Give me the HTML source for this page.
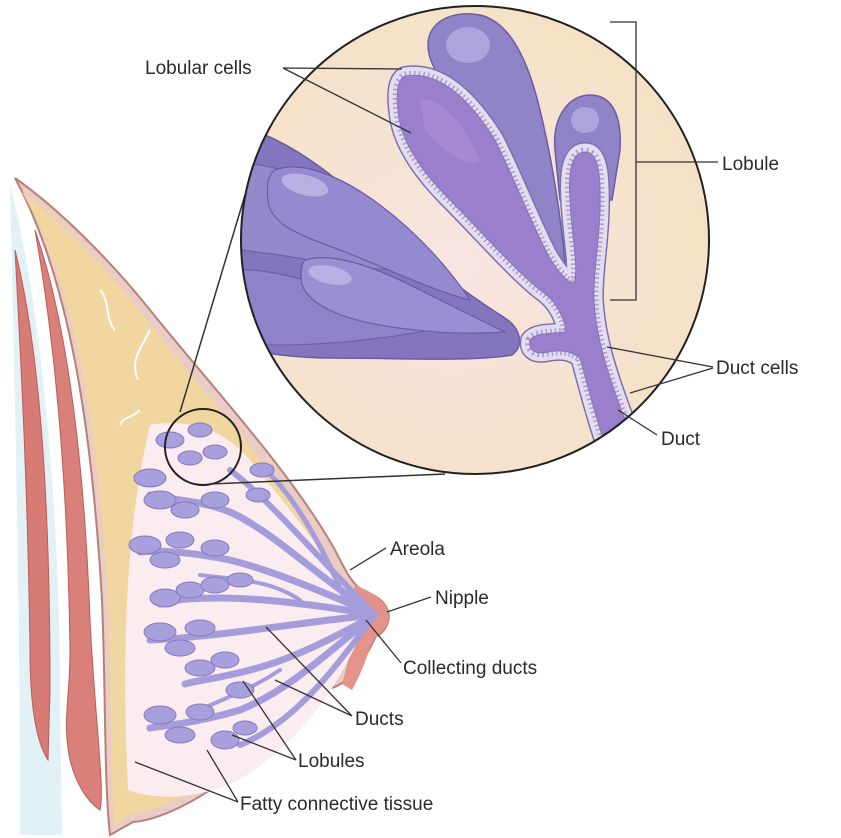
<!DOCTYPE html>
<html><head><meta charset="utf-8"><style>
html,body{margin:0;padding:0;background:#fff;}
svg{display:block;}
text{font-family:"Liberation Sans",sans-serif;font-size:19px;fill:#2a2a2a;}
</style></head><body>
<svg width="841" height="838" viewBox="0 0 841 838" xmlns="http://www.w3.org/2000/svg">
<defs>
<radialGradient id="bg" cx="0.45" cy="0.55" r="0.6"><stop offset="0" stop-color="#f8e4e2"/><stop offset="1" stop-color="#f5e2c4"/></radialGradient>
<clipPath id="cc"><circle cx="475" cy="240" r="234"/></clipPath>
</defs>
<!-- chest wall -->
<path d="M10,185 C40,300 60,500 60,700 L62,835 L20,835 C20,600 15,400 10,185 Z" fill="#e2f1f6"/>
<path d="M15,250 C40,350 50,500 50,690 L48,760 C35,740 30,700 30,650 C28,500 22,380 15,250Z" fill="#d77b75" stroke="#b95c58" stroke-width="1"/>
<path d="M35,230 C70,330 85,480 90,620 C95,720 105,790 100,810 C85,800 75,780 70,760 C62,720 70,700 70,650 C68,500 58,360 35,230Z" fill="#d9807a" stroke="#b95c58" stroke-width="1"/>
<!-- breast -->
<path d="M15,178 C60,210 110,260 150,310 C210,385 290,470 335,550 C345,570 352,585 365,592 C380,596 392,608 388,622 C385,632 378,636 376,636 C360,670 345,690 318,690 C290,730 260,765 233,773 C200,800 160,820 133,822 L110,835 C104,780 106,700 102,600 C92,430 70,280 15,178Z" fill="#e9cdc4" stroke="#b98078" stroke-width="2"/>
<path d="M22,192 C62,222 108,270 145,318 C203,392 280,475 325,553 C338,575 345,590 350,600 C350,640 340,670 312,688 C284,725 255,758 228,766 C196,792 158,810 130,814 L115,826 C110,780 112,700 108,600 C98,430 76,285 22,192Z" fill="#f1d69f"/>
<path d="M355,585 C378,594 392,606 388,622 C385,632 376,636 372,640 C368,655 362,672 352,690 L342,684 C352,650 356,620 350,600 Z" fill="#e3938a"/>
<!-- fat cracks -->
<g stroke="#fff" stroke-width="2" fill="none">
<path d="M100,290 C110,300 105,320 115,330 M150,330 C140,350 130,360 138,380 M140,410 C130,420 125,415 120,425"/>
</g>
<!-- gland area -->
<path d="M150,425 C190,418 225,430 250,460 C295,515 340,575 368,615 C345,680 300,745 235,782 C195,800 155,800 128,790 C124,700 120,550 150,425Z" fill="#fbecef"/>
<!-- ducts -->
<g fill="none" stroke="#a59ddb" stroke-linecap="round">
<path d="M375,615 C320,560 270,500 230,470" stroke-width="6"/>
<path d="M375,615 C310,570 270,530 230,512 C200,500 170,500 150,495" stroke-width="7"/>
<path d="M375,615 C320,590 270,570 230,560 C190,552 160,550 140,552" stroke-width="7"/>
<path d="M375,615 C320,605 260,598 220,598 C190,598 170,600 160,604" stroke-width="7"/>
<path d="M375,615 C320,620 260,630 210,635 C180,638 165,640 150,640" stroke-width="7"/>
<path d="M375,615 C330,640 290,660 250,670 C220,678 200,680 185,684" stroke-width="7"/>
<path d="M375,615 C330,650 290,690 240,710 C200,722 170,725 150,728" stroke-width="7"/>
<path d="M375,615 C340,660 300,720 240,745" stroke-width="6"/>
<path d="M345,600 C320,540 290,490 260,465" stroke-width="5"/>
<path d="M300,600 C270,580 240,580 200,575" stroke-width="4"/>
<path d="M280,670 C250,690 220,700 200,710" stroke-width="4"/>
</g>
<g fill="#a8a0dc" stroke="#8479bd" stroke-width="1">
<ellipse cx="170" cy="440" rx="14" ry="8"/><ellipse cx="200" cy="430" rx="12" ry="7"/><ellipse cx="215" cy="452" rx="12" ry="7"/><ellipse cx="190" cy="458" rx="12" ry="7"/>
<ellipse cx="150" cy="478" rx="16" ry="9"/><ellipse cx="160" cy="500" rx="16" ry="9"/><ellipse cx="185" cy="510" rx="14" ry="8"/><ellipse cx="215" cy="500" rx="14" ry="8"/>
<ellipse cx="145" cy="545" rx="16" ry="9"/><ellipse cx="165" cy="560" rx="15" ry="8"/><ellipse cx="180" cy="540" rx="14" ry="8"/><ellipse cx="215" cy="548" rx="14" ry="8"/>
<ellipse cx="165" cy="598" rx="15" ry="9"/><ellipse cx="190" cy="590" rx="14" ry="8"/><ellipse cx="215" cy="585" rx="14" ry="8"/><ellipse cx="240" cy="580" rx="13" ry="7"/>
<ellipse cx="160" cy="632" rx="16" ry="9"/><ellipse cx="180" cy="648" rx="15" ry="8"/><ellipse cx="200" cy="628" rx="15" ry="8"/>
<ellipse cx="200" cy="668" rx="15" ry="8"/><ellipse cx="225" cy="660" rx="14" ry="8"/><ellipse cx="240" cy="690" rx="14" ry="8"/>
<ellipse cx="160" cy="715" rx="16" ry="9"/><ellipse cx="180" cy="735" rx="15" ry="8"/><ellipse cx="200" cy="712" rx="14" ry="8"/>
<ellipse cx="225" cy="740" rx="14" ry="9"/><ellipse cx="245" cy="728" rx="12" ry="7"/><ellipse cx="262" cy="470" rx="12" ry="7"/><ellipse cx="258" cy="495" rx="12" ry="7"/>
</g>
<!-- small circle and lines -->
<circle cx="203" cy="447" r="38" fill="none" stroke="#222" stroke-width="2"/>
<line x1="180" y1="412" x2="245" y2="195" stroke="#333" stroke-width="1.5"/>
<line x1="210" y1="484" x2="445" y2="474" stroke="#333" stroke-width="1.5"/>
<!-- big circle -->
<circle cx="475" cy="240" r="234" fill="url(#bg)"/>
<g clip-path="url(#cc)">
<path d="M235,125 C280,135 330,170 370,210 C410,250 460,290 505,318 C520,328 525,345 512,355 C470,362 400,358 330,358 C290,358 260,352 235,348 Z" fill="#8376be" stroke="#6a5ca3" stroke-width="1.5"/>
<path d="M232,165 C270,160 300,175 330,200 C360,225 380,250 400,270 C370,270 320,262 280,255 C255,252 240,250 232,248Z" fill="#9588cb" stroke="#6a5ca3"/>
<path d="M275,170 C300,160 340,175 380,205 C420,235 450,270 470,300 C430,290 380,265 340,250 C300,235 270,225 268,200 C266,185 268,175 275,170Z" fill="#958ad0" stroke="#6a5ca3" stroke-width="1.2"/>
<ellipse cx="305" cy="185" rx="24" ry="10" fill="#b9b1e4" transform="rotate(15 305 185)"/>
<path d="M232,270 C260,268 290,275 320,285 C360,300 400,315 430,330 C380,340 320,345 280,345 C255,345 240,342 232,340Z" fill="#8e82c8" stroke="#6a5ca3"/>
<path d="M305,260 C330,252 370,265 410,285 C450,305 480,320 505,332 C460,335 420,332 380,325 C340,318 310,305 302,285 C300,272 301,264 305,260Z" fill="#9a8fd2" stroke="#6a5ca3" stroke-width="1.2"/>
<ellipse cx="330" cy="275" rx="22" ry="9" fill="#b9b1e4" transform="rotate(12 330 275)"/>
<path d="M428,45 C428,20 455,10 480,15 C510,22 528,60 540,110 C552,160 560,210 565,262 L545,262 C520,215 490,160 462,110 C442,80 428,65 428,45Z" fill="#8f84c8" stroke="#6a5ca3" stroke-width="1.5"/>
<ellipse cx="468" cy="45" rx="22" ry="18" fill="#b6ade6" opacity="0.8"/>
<path d="M555,150 C552,115 570,95 590,95 C612,95 622,115 620,150 L612,200 L560,200Z" fill="#8f84c8" stroke="#6a5ca3" stroke-width="1.5"/>
<ellipse cx="585" cy="120" rx="14" ry="13" fill="#b6ade6" opacity="0.8"/>
<g stroke-linejoin="round">
<path d="M405,76 C440,70 470,100 495,140 C515,180 530,220 548,255 C560,275 568,283 574,283 C579,268 572,240 570,200 C568,170 572,152 585,152 C598,152 601,172 600,210 C599,245 593,275 594,300 C596,340 610,380 625,420 L603,438 C592,405 585,375 580,358 C570,350 560,350 548,352 C535,355 528,350 530,340 C536,332 552,334 566,332 C564,315 555,300 540,290 C515,270 480,230 450,200 C420,170 400,140 398,110 C396,95 397,80 405,76Z" fill="none" stroke="#7d6fae" stroke-width="20"/>
<path d="M405,76 C440,70 470,100 495,140 C515,180 530,220 548,255 C560,275 568,283 574,283 C579,268 572,240 570,200 C568,170 572,152 585,152 C598,152 601,172 600,210 C599,245 593,275 594,300 C596,340 610,380 625,420 L603,438 C592,405 585,375 580,358 C570,350 560,350 548,352 C535,355 528,350 530,340 C536,332 552,334 566,332 C564,315 555,300 540,290 C515,270 480,230 450,200 C420,170 400,140 398,110 C396,95 397,80 405,76Z" fill="none" stroke="#e4ddf0" stroke-width="17"/>
<path d="M405,76 C440,70 470,100 495,140 C515,180 530,220 548,255 C560,275 568,283 574,283 C579,268 572,240 570,200 C568,170 572,152 585,152 C598,152 601,172 600,210 C599,245 593,275 594,300 C596,340 610,380 625,420 L603,438 C592,405 585,375 580,358 C570,350 560,350 548,352 C535,355 528,350 530,340 C536,332 552,334 566,332 C564,315 555,300 540,290 C515,270 480,230 450,200 C420,170 400,140 398,110 C396,95 397,80 405,76Z" fill="none" stroke="#a89cc9" stroke-width="9" stroke-dasharray="1.5 3"/>
<path d="M405,76 C440,70 470,100 495,140 C515,180 530,220 548,255 C560,275 568,283 574,283 C579,268 572,240 570,200 C568,170 572,152 585,152 C598,152 601,172 600,210 C599,245 593,275 594,300 C596,340 610,380 625,420 L603,438 C592,405 585,375 580,358 C570,350 560,350 548,352 C535,355 528,350 530,340 C536,332 552,334 566,332 C564,315 555,300 540,290 C515,270 480,230 450,200 C420,170 400,140 398,110 C396,95 397,80 405,76Z" fill="#9a7fcc" stroke="#8a72b8" stroke-width="1"/>
</g>
<path d="M420,100 C440,95 465,125 480,160 C470,170 440,150 425,130Z" fill="#a98ed6" opacity="0.7"/>
</g>
<circle cx="475" cy="240" r="234" fill="none" stroke="#222" stroke-width="2"/>
<g stroke="#333" stroke-width="1.3" fill="none">
<path d="M283,68 L402,69 M283,68 L411,133"/>
<path d="M610,22 L636,22 L636,300 L610,300 M636,162 L718,162"/>
<path d="M607,347 L713,367 M630,393 L713,368"/>
<path d="M618,410 L657,435"/>
<path d="M350,570 L386,548"/>
<path d="M387,612 L431,597"/>
<path d="M366,620 L401,663"/>
<path d="M266,627 L352,716 M275,680 L352,716"/>
<path d="M243,681 L296,760 M232,735 L296,760"/>
<path d="M135,762 L238,802 M207,750 L238,802"/>
</g>
<text x="145" y="74">Lobular cells</text>
<text x="722" y="170">Lobule</text>
<text x="716" y="374">Duct cells</text>
<text x="661" y="445">Duct</text>
<text x="390" y="555">Areola</text>
<text x="435" y="604">Nipple</text>
<text x="403" y="674">Collecting ducts</text>
<text x="355" y="725">Ducts</text>
<text x="298" y="767">Lobules</text>
<text x="240" y="810">Fatty connective tissue</text>
</svg>
</body></html>
